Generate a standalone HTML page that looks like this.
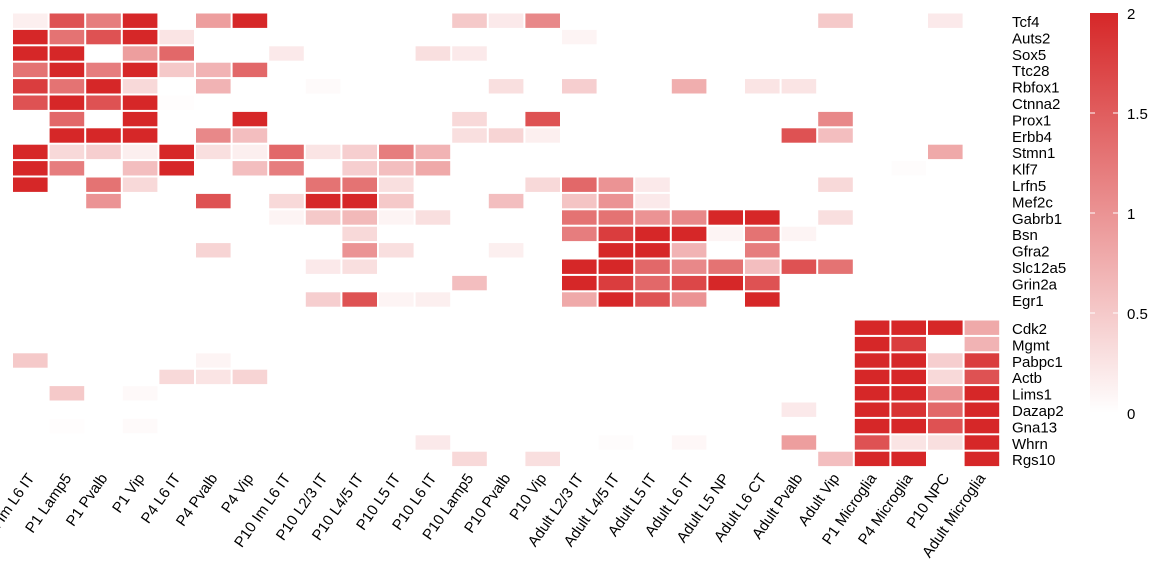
<!DOCTYPE html>
<html><head><meta charset="utf-8"><style>
body{margin:0;background:#fff;}
svg{display:block;font-family:"Liberation Sans",Arial,sans-serif;}
</style></head><body>
<svg id="s" width="1152" height="576" viewBox="0 0 1152 576">
<defs><linearGradient id="g" x1="0" y1="1" x2="0" y2="0"><stop offset="0" stop-color="#ffffff"/><stop offset="1" stop-color="#d62728"/></linearGradient></defs>
<g id="cells"></g>
<g font-size="15" fill="#000">
<text x="1012" y="27">Tcf4</text>
<text x="1012" y="43.4">Auts2</text>
<text x="1012" y="59.8">Sox5</text>
<text x="1012" y="76.2">Ttc28</text>
<text x="1012" y="92.6">Rbfox1</text>
<text x="1012" y="109">Ctnna2</text>
<text x="1012" y="125.4">Prox1</text>
<text x="1012" y="141.8">Erbb4</text>
<text x="1012" y="158.2">Stmn1</text>
<text x="1012" y="174.6">Klf7</text>
<text x="1012" y="191">Lrfn5</text>
<text x="1012" y="207.4">Mef2c</text>
<text x="1012" y="223.8">Gabrb1</text>
<text x="1012" y="240.2">Bsn</text>
<text x="1012" y="256.6">Gfra2</text>
<text x="1012" y="273">Slc12a5</text>
<text x="1012" y="289.4">Grin2a</text>
<text x="1012" y="305.8">Egr1</text>
<text x="1012" y="334">Cdk2</text>
<text x="1012" y="350.4">Mgmt</text>
<text x="1012" y="366.8">Pabpc1</text>
<text x="1012" y="383.2">Actb</text>
<text x="1012" y="399.6">Lims1</text>
<text x="1012" y="416">Dazap2</text>
<text x="1012" y="432.4">Gna13</text>
<text x="1012" y="448.8">Whrn</text>
<text x="1012" y="465.2">Rgs10</text>
</g>
<g font-size="15" fill="#000" text-anchor="end">
<text transform="translate(35,478) rotate(-55)">P1 Im L6 IT</text>
<text transform="translate(72,478) rotate(-55)">P1 Lamp5</text>
<text transform="translate(108,478) rotate(-55)">P1 Pvalb</text>
<text transform="translate(145,478) rotate(-55)">P1 Vip</text>
<text transform="translate(181,478) rotate(-55)">P4 L6 IT</text>
<text transform="translate(218,478) rotate(-55)">P4 Pvalb</text>
<text transform="translate(254,478) rotate(-55)">P4 Vip</text>
<text transform="translate(291,478) rotate(-55)">P10 Im L6 IT</text>
<text transform="translate(328,478) rotate(-55)">P10 L2/3 IT</text>
<text transform="translate(364,478) rotate(-55)">P10 L4/5 IT</text>
<text transform="translate(401,478) rotate(-55)">P10 L5 IT</text>
<text transform="translate(437,478) rotate(-55)">P10 L6 IT</text>
<text transform="translate(474,478) rotate(-55)">P10 Lamp5</text>
<text transform="translate(511,478) rotate(-55)">P10 Pvalb</text>
<text transform="translate(547,478) rotate(-55)">P10 Vip</text>
<text transform="translate(584,478) rotate(-55)">Adult L2/3 IT</text>
<text transform="translate(620,478) rotate(-55)">Adult L4/5 IT</text>
<text transform="translate(657,478) rotate(-55)">Adult L5 IT</text>
<text transform="translate(694,478) rotate(-55)">Adult L6 IT</text>
<text transform="translate(730,478) rotate(-55)">Adult L5 NP</text>
<text transform="translate(767,478) rotate(-55)">Adult L6 CT</text>
<text transform="translate(803,478) rotate(-55)">Adult Pvalb</text>
<text transform="translate(840,478) rotate(-55)">Adult Vip</text>
<text transform="translate(877,478) rotate(-55)">P1 Microglia</text>
<text transform="translate(913,478) rotate(-55)">P4 Microglia</text>
<text transform="translate(950,478) rotate(-55)">P10 NPC</text>
<text transform="translate(986,478) rotate(-55)">Adult Microglia</text>
</g>
<rect x="1090" y="13" width="28" height="400" fill="url(#g)"/>
<g stroke="#fff" stroke-width="1"><line x1="1090" y1="113" x2="1095" y2="113"/><line x1="1113" y1="113" x2="1118" y2="113"/><line x1="1090" y1="213" x2="1095" y2="213"/><line x1="1113" y1="213" x2="1118" y2="213"/><line x1="1090" y1="313" x2="1095" y2="313"/><line x1="1113" y1="313" x2="1118" y2="313"/></g>
<g font-size="15" fill="#000">
<text x="1127" y="19">2</text>
<text x="1127" y="119">1.5</text>
<text x="1127" y="219">1</text>
<text x="1127" y="319">0.5</text>
<text x="1127" y="419">0</text>
</g>
</svg>
<script>
var rows=[
{0:.15,1:1.6,2:1.2,3:2,5:.9,6:2,12:.5,13:.2,14:1.1,22:.5,25:.2},
{0:2,1:1.3,2:1.6,3:2,4:.25,15:.1},
{0:2,1:2,3:.9,4:1.4,7:.2,11:.3,12:.2},
{0:1.3,1:2,2:1.2,3:2,4:.5,5:.7,6:1.4},
{0:1.8,1:1.3,2:2,3:.35,5:.7,8:.05,13:.3,15:.45,18:.75,20:.25,21:.25},
{0:1.6,1:2,2:1.6,3:2,4:.02},
{1:1.4,3:2,6:2,12:.35,14:1.6,22:1.1},
{1:2,2:2,3:2,5:1.1,6:.6,12:.3,13:.4,14:.15,21:1.6,22:.6},
{0:2,1:.35,2:.45,3:.15,4:2,5:.3,6:.15,7:1.4,8:.25,9:.45,10:1.2,11:.7,25:.8},
{0:2,1:1.2,3:.6,4:2,6:.6,7:1.2,9:.45,10:.6,11:.8,24:.03},
{0:2,2:1.3,3:.35,8:1.3,9:1.3,10:.3,14:.35,15:1.4,16:1.0,17:.2,22:.35},
{2:1.0,5:1.6,7:.35,8:2,9:2,10:.5,13:.6,15:.55,16:1.0,17:.2},
{7:.1,8:.5,9:.65,10:.1,11:.3,15:1.3,16:1.3,17:1.0,18:1.1,19:2,20:2,22:.3},
{9:.35,15:1.2,16:1.8,17:2,18:2,19:.1,20:1.3,21:.1},
{5:.4,9:1.0,10:.3,13:.15,16:2,17:2,18:.7,20:1.2},
{8:.2,9:.3,15:2,16:2,17:1.4,18:1.1,19:1.3,20:.6,21:1.6,22:1.3},
{12:.6,15:2,16:1.8,17:1.4,18:1.7,19:2,20:1.6},
{8:.45,9:1.6,10:.1,11:.15,15:.8,16:2,17:1.6,18:1.0,20:2},
{23:2,24:2,25:2,26:.8},
{23:2,24:1.8,26:.7},
{0:.5,5:.1,23:2,24:2,25:.45,26:1.8},
{4:.35,5:.25,6:.4,23:2,24:2,25:.35,26:1.6},
{1:.5,3:.06,23:2,24:2,25:1.0,26:2},
{21:.2,23:2,24:1.9,25:1.4,26:2},
{1:.02,3:.05,23:2,24:2,25:1.6,26:2},
{11:.2,16:.03,18:.07,21:.9,23:1.6,24:.25,25:.3,26:2},
{12:.35,14:.3,22:.6,23:2,24:2,26:2}];
var g=document.getElementById('cells'),h='';
var x0=12,w=36.6,rh=16.4;
rows.forEach(function(r,i){
 var y=i<18?12.5+i*rh:319.5+(i-18)*rh;
 for(var c in r){var t=Math.min(r[c]/2,1);
  var R=Math.round(255+(214-255)*t),G=Math.round(255+(39-255)*t),B=Math.round(255+(40-255)*t);
  h+='<rect x="'+(x0+c*w+1).toFixed(1)+'" y="'+(y+1).toFixed(1)+'" width="'+(w-2).toFixed(1)+'" height="'+(rh-2).toFixed(1)+'" fill="rgb('+R+','+G+','+B+')"/>';}
});
g.innerHTML=h;
</script>
</body></html>
